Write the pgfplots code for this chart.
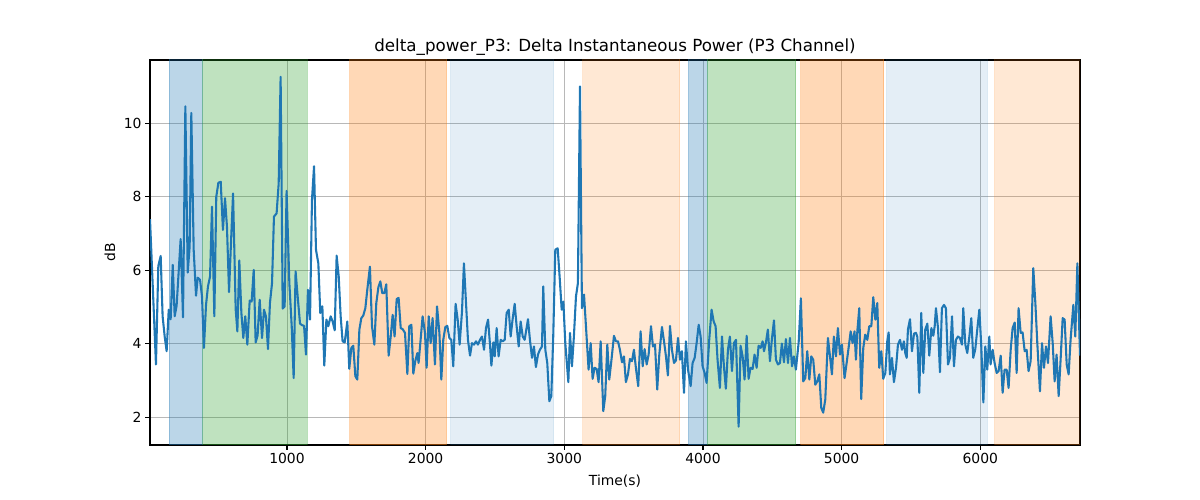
\documentclass[border=0pt]{standalone}
\usepackage{fontspec}
\setmainfont{DejaVu Sans}
\usepackage{pgfplots}
\pgfplotsset{compat=1.18}
\usepackage{pgfplotstable}
\definecolor{tabblue}{RGB}{31,119,180}
\definecolor{taborange}{RGB}{255,127,14}
\definecolor{tabgreen}{RGB}{44,160,44}
\definecolor{gridgray}{RGB}{184,184,184}
\pgfplotstableread{
x y
12 7.39
55 3.44
72 6.12
89 6.39
103 4.75
118 4.20
132 3.80
147 4.93
161 4.67
176 6.15
190 4.75
204 5.04
233 6.85
250 4.72
267 10.46
284 5.94
298 6.65
310 10.28
327 6.56
344 5.31
356 5.80
373 5.74
387 5.29
401 3.89
416 5.06
430 5.56
445 5.83
459 7.73
476 4.75
490 8.00
505 8.38
522 8.41
538 7.10
553 7.96
567 7.19
582 5.41
596 6.74
611 8.09
630 4.93
642 4.34
656 6.27
671 4.84
685 4.16
699 4.75
714 3.98
731 5.18
745 5.15
760 6.01
774 4.04
788 4.23
803 5.20
820 4.16
834 4.93
848 4.75
863 3.86
877 5.11
892 5.65
906 7.46
925 7.55
940 8.36
954 11.26
969 4.96
983 5.02
997 8.16
1017 5.65
1034 4.48
1048 3.07
1062 5.97
1079 5.20
1094 4.55
1108 4.51
1123 4.49
1137 3.71
1151 5.47
1166 4.66
1180 7.91
1195 8.83
1209 6.56
1226 6.19
1240 4.84
1255 5.02
1269 3.41
1284 4.66
1298 4.48
1315 4.75
1329 4.61
1344 4.37
1358 6.40
1373 5.83
1387 4.75
1401 4.07
1416 4.04
1435 4.61
1449 3.32
1464 3.89
1478 3.95
1493 3.12
1507 3.03
1522 4.39
1536 4.70
1550 4.77
1565 4.97
1579 5.47
1598 6.10
1613 4.48
1630 3.98
1644 5.11
1659 5.54
1673 5.70
1687 5.38
1702 5.38
1716 5.62
1733 3.68
1748 4.20
1762 4.79
1776 4.20
1791 5.22
1805 5.25
1820 4.43
1834 4.40
1851 4.30
1868 3.18
1882 4.48
1897 4.52
1911 3.19
1925 3.53
1940 3.75
1949 3.48
1964 4.13
1978 4.75
1995 4.30
2007 3.35
2022 4.75
2036 4.02
2050 4.70
2067 3.44
2082 5.02
2099 4.30
2113 3.03
2127 4.11
2142 4.46
2156 4.49
2171 4.16
2185 4.11
2199 3.39
2216 5.09
2231 4.66
2245 3.98
2262 4.88
2276 6.19
2293 4.97
2305 4.11
2320 3.68
2334 4.02
2349 3.98
2363 4.07
2377 3.98
2392 4.11
2406 4.20
2421 3.84
2435 4.43
2450 4.66
2464 3.98
2474 3.41
2488 4.04
2498 3.66
2512 4.43
2526 3.66
2541 4.11
2555 4.07
2570 4.11
2584 4.84
2599 4.93
2613 4.20
2627 4.67
2642 5.09
2656 4.48
2671 3.93
2685 4.61
2700 4.20
2714 4.11
2738 4.67
2752 4.11
2767 3.62
2781 3.93
2795 3.37
2810 3.71
2824 3.84
2839 3.93
2848 5.56
2863 3.84
2877 3.48
2892 2.44
2906 2.58
2920 4.20
2935 6.56
2952 6.60
2966 5.83
2981 4.93
2993 5.15
3007 4.02
3029 2.96
3041 4.30
3055 3.39
3069 4.20
3084 5.29
3098 5.65
3113 11.00
3127 4.97
3142 5.34
3156 4.48
3175 3.30
3190 4.02
3204 3.05
3218 3.35
3233 3.32
3247 2.96
3262 4.07
3281 2.17
3295 2.58
3310 3.98
3324 3.03
3339 3.53
3358 4.22
3372 4.07
3387 4.07
3401 3.84
3416 3.50
3430 3.66
3444 2.96
3459 3.17
3473 3.59
3488 3.53
3502 3.84
3517 3.32
3533 2.85
3550 4.34
3565 3.39
3579 3.86
3594 3.44
3608 3.71
3625 4.48
3639 3.93
3654 3.98
3670 2.76
3685 3.71
3704 4.46
3719 4.07
3733 3.66
3747 3.14
3762 4.49
3776 3.84
3791 3.48
3805 3.55
3820 4.16
3834 3.57
3848 3.80
3863 2.67
3877 4.07
3892 3.30
3911 2.85
3925 3.48
3940 3.62
3954 4.02
3969 4.52
3983 4.20
3997 3.39
4012 3.21
4026 2.94
4045 4.11
4062 4.93
4077 4.61
4091 4.48
4105 3.57
4122 2.80
4137 4.20
4151 3.39
4165 2.78
4180 3.84
4194 4.20
4209 3.26
4223 4.02
4238 4.11
4257 1.75
4271 3.95
4286 3.66
4300 3.03
4315 4.22
4329 3.05
4343 3.35
4358 3.32
4372 3.71
4387 3.35
4401 3.95
4416 3.89
4430 4.07
4440 3.80
4454 4.04
4468 4.39
4483 3.53
4497 4.13
4512 4.64
4526 3.57
4541 3.44
4555 3.48
4569 4.01
4584 3.50
4598 4.13
4613 3.48
4627 4.16
4642 3.39
4656 3.66
4670 3.30
4690 4.04
4706 5.24
4723 2.98
4738 3.07
4752 3.80
4767 3.03
4781 3.66
4795 3.57
4810 2.89
4824 2.98
4839 3.17
4853 2.26
4867 2.13
4882 2.49
4901 4.16
4916 3.66
4930 3.17
4944 4.20
4959 3.66
4973 4.43
4988 3.71
5002 3.98
5021 3.07
5036 3.48
5050 3.89
5065 4.34
5079 4.02
5093 4.34
5103 3.57
5113 4.34
5127 4.97
5141 2.50
5156 3.89
5170 4.25
5185 4.11
5199 4.48
5214 4.48
5228 5.27
5243 4.66
5257 5.11
5271 3.35
5286 3.80
5300 3.05
5315 3.21
5329 4.07
5339 4.31
5348 3.17
5363 3.62
5377 2.96
5392 3.35
5406 3.98
5421 4.11
5435 3.84
5449 4.07
5459 3.75
5469 3.62
5478 4.39
5493 4.67
5507 3.80
5522 4.28
5536 4.30
5546 4.19
5560 2.67
5574 4.84
5589 3.21
5603 4.39
5618 4.55
5632 3.68
5647 4.43
5661 4.22
5671 4.48
5680 4.97
5695 4.43
5709 3.23
5723 4.97
5738 5.06
5752 4.97
5767 3.44
5781 3.62
5796 4.75
5810 3.39
5824 4.11
5839 4.20
5853 4.16
5868 3.98
5877 4.97
5892 3.98
5906 3.75
5921 4.20
5935 4.70
5949 3.62
5964 3.86
5978 4.39
5993 4.93
6007 3.93
6022 2.41
6036 3.93
6050 3.30
6065 4.20
6074 3.44
6089 3.84
6103 3.48
6118 3.21
6132 3.26
6147 3.68
6161 2.67
6175 3.30
6190 3.30
6204 2.80
6219 3.84
6233 4.43
6248 4.58
6262 3.21
6276 4.97
6291 4.30
6305 4.31
6320 3.80
6334 3.84
6348 3.26
6363 3.53
6382 6.06
6397 5.11
6411 4.02
6430 2.71
6445 4.02
6459 3.35
6474 3.93
6488 3.48
6507 4.75
6522 4.02
6536 2.98
6550 3.71
6565 2.58
6579 3.57
6594 4.70
6608 4.66
6623 3.44
6637 3.17
6651 4.11
6671 5.06
6685 4.20
6700 6.19
6719 3.68
}\datatable
\begin{document}
\begin{tikzpicture}
\path[use as bounding box] (0,0) rectangle (1200bp,500bp);
\begin{axis}[
  at={(150bp,55bp)}, anchor=south west,
  scale only axis, width=930bp, height=385bp,
  xmin=12, xmax=6719, ymin=1.25, ymax=11.72,
  xtick={1000,2000,3000,4000,5000,6000},
  ytick={2,4,6,8,10},
  scaled ticks=false,
  /pgf/number format/assume math mode=true,
  /pgf/number format/set thousands separator={},
  tick pos=left, tick align=outside,
  major tick length=4.9bp,
  every tick/.style={black, line width=1.1bp},
  axis line style={line width=1.1bp},
  grid=major,
  grid style={gridgray, line width=0.9bp},
  ticklabel style={font=\fontsize{13.9bp}{16bp}\selectfont},
  title={delta\_power\_P3: Delta Instantaneous Power (P3 Channel)},
  title style={font=\fontsize{16.7bp}{20bp}\selectfont, at={(axis description cs:0.5,1.006)}, anchor=base, inner sep=0pt},
  xlabel={Time(s)},
  xlabel style={font=\fontsize{13.9bp}{16bp}\selectfont, at={(axis description cs:0.5,-0.077)}, anchor=north, inner sep=0pt},
  ylabel={dB},
  ylabel style={font=\fontsize{13.9bp}{16bp}\selectfont, at={(axis description cs:-0.043,0.5)}, anchor=center, rotate=0, inner sep=0pt},
]
\addplot[forget plot, fill=tabblue, draw=tabblue, opacity=0.3, line width=1bp] coordinates {(150,0) (150,20) (392,20) (392,0)} \closedcycle;
\addplot[forget plot, fill=tabgreen, draw=tabgreen, opacity=0.3, line width=1bp] coordinates {(392,0) (392,20) (1146,20) (1146,0)} \closedcycle;
\addplot[forget plot, fill=taborange, draw=taborange, opacity=0.3, line width=1bp] coordinates {(1454,0) (1454,20) (2151,20) (2151,0)} \closedcycle;
\addplot[forget plot, fill=tabblue, draw=tabblue, opacity=0.12, line width=1bp] coordinates {(2180,0) (2180,20) (2923,20) (2923,0)} \closedcycle;
\addplot[forget plot, fill=taborange, draw=taborange, opacity=0.18, line width=1bp] coordinates {(3134,0) (3134,20) (3834,20) (3834,0)} \closedcycle;
\addplot[forget plot, fill=tabblue, draw=tabblue, opacity=0.3, line width=1bp] coordinates {(3894,0) (3894,20) (4031,20) (4031,0)} \closedcycle;
\addplot[forget plot, fill=tabgreen, draw=tabgreen, opacity=0.3, line width=1bp] coordinates {(4031,0) (4031,20) (4670,20) (4670,0)} \closedcycle;
\addplot[forget plot, fill=taborange, draw=taborange, opacity=0.3, line width=1bp] coordinates {(4706,0) (4706,20) (5305,20) (5305,0)} \closedcycle;
\addplot[forget plot, fill=tabblue, draw=tabblue, opacity=0.12, line width=1bp] coordinates {(5324,0) (5324,20) (6050,20) (6050,0)} \closedcycle;
\addplot[forget plot, fill=taborange, draw=taborange, opacity=0.18, line width=1bp] coordinates {(6103,0) (6103,20) (6800,20) (6800,0)} \closedcycle;
\addplot[tabblue, line width=2.08bp, line join=round, mark=none] table[x=x,y=y]{\datatable};
\end{axis}
\end{tikzpicture}
\end{document}
